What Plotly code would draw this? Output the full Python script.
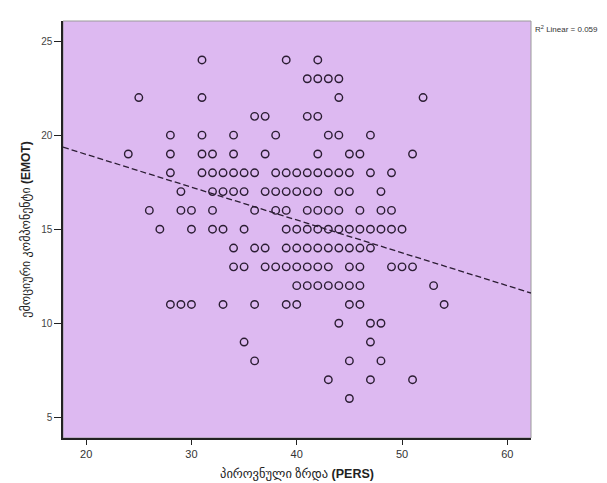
import plotly.graph_objects as go

# PERS (x) and EMOT (y) values, row by row
pers = [31, 39, 42,
        41, 42, 43, 44,
        25, 31, 44, 52,
        36, 37, 41, 42,
        28, 31, 34, 38, 43, 44, 47,
        24, 28, 31, 32, 34, 37, 42, 45, 46, 51,
        28, 31, 32, 33, 34, 35, 36, 38, 39, 40, 41, 42, 43, 44, 45, 47, 49,
        29, 32, 33, 34, 35, 37, 38, 39, 40, 41, 42, 44, 45, 48,
        26, 29, 30, 32, 36, 38, 39, 41, 42, 43, 44, 46, 48, 49,
        27, 30, 32, 33, 35, 39, 40, 41, 42, 43, 44, 45, 46, 47, 48, 49, 50,
        34, 36, 37, 39, 40, 41, 42, 43, 44, 45, 46, 47,
        34, 35, 37, 38, 39, 40, 41, 42, 43, 45, 46, 49, 50, 51,
        40, 41, 42, 43, 44, 45, 46, 53,
        28, 29, 30, 33, 36, 39, 40, 45, 46, 54,
        44, 47, 48,
        35, 47,
        36, 45, 48,
        43, 47, 51,
        45]
emot = ([24] * 3 + [23] * 4 + [22] * 4 + [21] * 4 + [20] * 7 + [19] * 10 +
        [18] * 17 + [17] * 14 + [16] * 14 + [15] * 17 + [14] * 12 + [13] * 14 +
        [12] * 8 + [11] * 10 + [10] * 3 + [9] * 2 + [8] * 3 + [7] * 3 + [6] * 1)

# Fit line coefficients
fit_intercept = 22.47
fit_slope = -0.1745
r2_text = "R<sup>2</sup> Linear = 0.059"

x_range = [17.8, 62.25]
y_range = [3.9, 26.07]
x_ticks = [20, 30, 40, 50, 60]
y_ticks = [5, 10, 15, 20, 25]

x_title = "პიროვნული ზრდა <b>(PERS)</b>"
y_title = "ემოციური კომპონენტი <b>(EMOT)</b>"

FONT = "Liberation Sans, Arial, DejaVu Sans, sans-serif"

fig = go.Figure()
fig.add_trace(go.Scatter(
    x=pers, y=emot, mode="markers",
    marker=dict(symbol="circle-open", size=7.5, color="#2b1d33",
                line=dict(width=1.4, color="#2b1d33")),
    showlegend=False, hoverinfo="x+y"))

fit_x = [x_range[0], x_range[1]]
fit_y = [fit_intercept + fit_slope * v for v in fit_x]
fig.add_trace(go.Scatter(
    x=fit_x, y=fit_y, mode="lines",
    line=dict(color="#2b1d33", width=1.3, dash="6px,3px"),
    showlegend=False, hoverinfo="skip"))

fig.update_layout(
    width=607, height=483,
    margin=dict(l=55, r=84, t=13, b=44, pad=0),
    paper_bgcolor="white",
    plot_bgcolor="#DDB9F1",
    font=dict(family=FONT, size=11, color="#333333"),
    xaxis=dict(range=x_range, tickvals=x_ticks, showgrid=False, zeroline=False,
               showline=True, linecolor="#222222", linewidth=1.5,
               ticks="outside", ticklen=5, tickwidth=1.3, tickcolor="#222222",
               tickfont=dict(size=11, color="#333333"),
               title=dict(text=x_title, font=dict(size=12.5, color="#222222"), standoff=10)),
    yaxis=dict(range=y_range, tickvals=y_ticks, showgrid=False, zeroline=False,
               showline=True, linecolor="#222222", linewidth=1.5,
               ticks="outside", ticklen=7, tickwidth=1.3, tickcolor="#222222",
               tickfont=dict(size=10, color="#444444"),
               title=dict(text=y_title, font=dict(size=12, color="#222222"), standoff=8)),
    shapes=[dict(type="rect", xref="paper", yref="paper", x0=0, x1=1, y0=0, y1=1,
                 line=dict(color="#9a9a9a", width=1), layer="below")],
    annotations=[dict(text=r2_text, xref="paper", yref="paper", x=1, y=0.98,
                      xanchor="left", yanchor="middle", xshift=2, showarrow=False,
                      font=dict(size=8, color="#333333"))],
)

fig.write_html("out.html")
